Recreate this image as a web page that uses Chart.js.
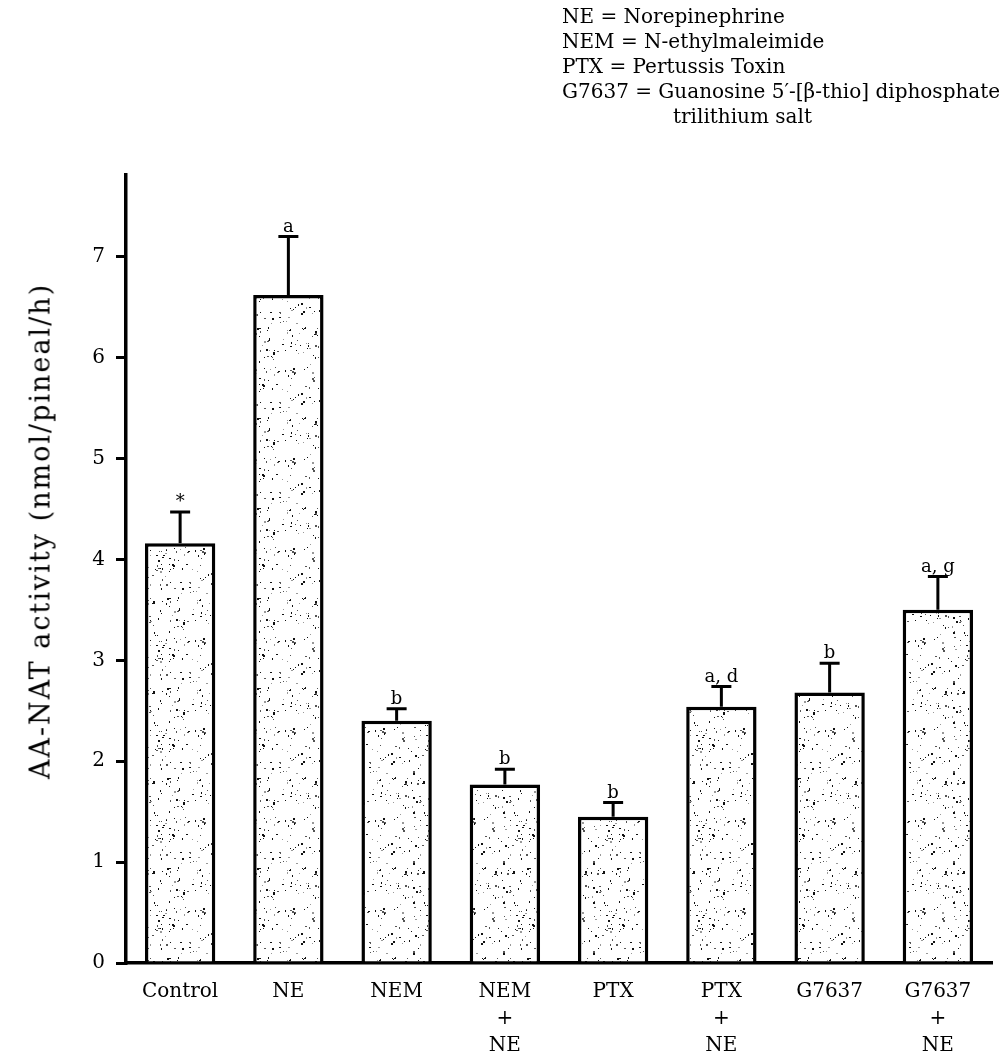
<!DOCTYPE html>
<html>
<head>
<meta charset="utf-8">
<script src="https://cdn.jsdelivr.net/npm/chart.js@4.4.1/dist/chart.umd.min.js"></script>
<style>
  html, body { margin: 0; padding: 0; background: #fff; }
  #wrap { position: relative; width: 1006px; height: 1056px; }
  #c { position: absolute; left: 0; top: 0; }
  .note { position: absolute; font-family: "DejaVu Serif", serif; font-size: 20px; color: #000; white-space: nowrap; line-height: 25px; }
  #ytitle { position: absolute; font-family: "DejaVu Serif", serif; font-size: 27px; letter-spacing: 2px; color: #000; white-space: nowrap;
            left: 40px; top: 531px; transform: translate(-50%, -50%) rotate(-90deg); }
</style>
</head>
<body>
<div id="wrap">
  <canvas id="c" width="1006" height="1056"></canvas>
  <div class="note" style="left:562px; top:4px;">NE = Norepinephrine</div>
  <div class="note" style="left:562px; top:29px;">NEM = N-ethylmaleimide</div>
  <div class="note" style="left:562px; top:54px;">PTX = Pertussis Toxin</div>
  <div class="note" style="left:562px; top:79px;">G7637 = Guanosine 5′-[β-thio] diphosphate</div>
  <div class="note" style="left:673px; top:104px;">trilithium salt</div>
  <div id="ytitle">AA-NAT activity (nmol/pineal/h)</div>
</div>
<script>
// ---- data ----
const categories = [["Control"], ["NE"], ["NEM"], ["NEM", "+", "NE"], ["PTX"], ["PTX", "+", "NE"], ["G7637"], ["G7637", "+", "NE"]];
const meanValues = [4.16, 6.62, 2.40, 1.77, 1.45, 2.54, 2.68, 3.50];
const semValues  = [0.31, 0.58, 0.12, 0.15, 0.14, 0.20, 0.29, 0.33];
const sigLabels  = ["*", "a", "b", "b", "b", "a, d", "b", "a, g"];
const yTicks     = [0, 1, 2, 3, 4, 5, 6, 7];

// speckled texture for the bars (decorative fill only)
function makeSpeckle() {
  const p = document.createElement('canvas');
  p.width = 90; p.height = 90;
  const g = p.getContext('2d');
  g.fillStyle = '#ffffff';
  g.fillRect(0, 0, 90, 90);
  let s = 12345;
  const rnd = () => { s = (s * 1103515245 + 12345) & 0x7fffffff; return s / 0x7fffffff; };
  for (let i = 0; i < 190; i++) {
    const x = rnd() * 90, y = rnd() * 90;
    const shade = rnd();
    g.fillStyle = shade < 0.55 ? '#111' : (shade < 0.8 ? '#555' : '#999');
    const w = rnd() < 0.35 ? 2 : 1, h = rnd() < 0.35 ? 2 : 1;
    g.fillRect(Math.floor(x), Math.floor(y), w, h);
  }
  return g.createPattern(p, 'repeat');
}

const FONT = '"DejaVu Serif", serif';

const errorBarPlugin = {
  id: 'errorBars',
  afterDatasetsDraw(chart) {
    const ctx = chart.ctx;
    const meta = chart.getDatasetMeta(0);
    const ys = chart.scales.y;
    ctx.save();
    ctx.strokeStyle = '#000';
    ctx.lineWidth = 3;
    ctx.fillStyle = '#000';
    ctx.font = '18px ' + FONT;
    ctx.textAlign = 'center';
    ctx.textBaseline = 'alphabetic';
    meta.data.forEach((bar, i) => {
      const x = bar.x;
      const yTop = ys.getPixelForValue(meanValues[i]);
      const yCap = ys.getPixelForValue(meanValues[i] + semValues[i]);
      ctx.beginPath();
      ctx.moveTo(x, yTop);
      ctx.lineTo(x, yCap);
      ctx.moveTo(x - 10, yCap);
      ctx.lineTo(x + 10, yCap);
      ctx.stroke();
      ctx.fillText(sigLabels[i], x, yCap - 5);
    });
    ctx.restore();
  }
};

const ctx = document.getElementById('c').getContext('2d');
new Chart(ctx, {
  type: 'bar',
  data: {
    labels: categories,
    datasets: [{
      data: meanValues,
      backgroundColor: makeSpeckle(),
      borderColor: '#000',
      borderWidth: 3.5,
      borderSkipped: 'start',
      barPercentage: 0.65,
      categoryPercentage: 1.0
    }]
  },
  options: {
    responsive: false,
    animation: false,
    layout: { padding: { left: 0, right: 14, top: 175, bottom: 0 } },
    plugins: { legend: { display: false }, tooltip: { enabled: false } },
    scales: {
      x: {
        offset: true,
        grid: { display: false, drawTicks: false },
        border: { display: true, color: '#000', width: 3.5 },
        ticks: { color: '#000', font: { family: FONT, size: 20, lineHeight: 1.35 }, padding: 15, maxRotation: 0, autoSkip: false },
        afterFit(scale) { scale.height = 93; }
      },
      y: {
        min: 0,
        max: 7.81,
        afterBuildTicks(scale) { scale.ticks = yTicks.map(v => ({ value: v })); },
        grid: { display: true, drawOnChartArea: false, drawTicks: true, tickLength: 10, color: '#000', lineWidth: 3 },
        border: { display: true, color: '#000', width: 3.5 },
        ticks: { color: '#000', font: { family: FONT, size: 20 }, padding: 11 },
        afterFit(scale) { scale.width = 126; }
      }
    }
  },
  plugins: [errorBarPlugin]
});
</script>
</body>
</html>
